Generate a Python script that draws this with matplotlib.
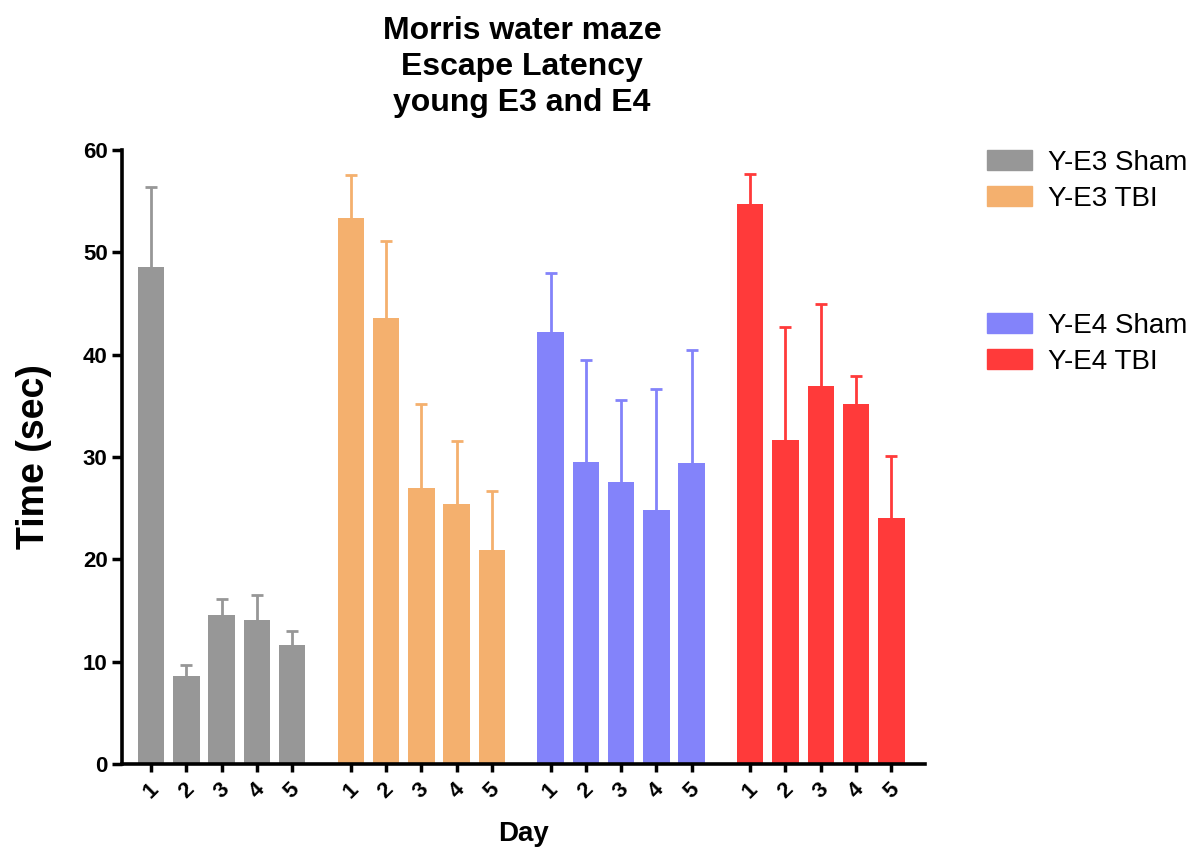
import numpy as np
import matplotlib
matplotlib.use("Agg")
import matplotlib.pyplot as plt
from matplotlib.patches import Patch

plt.rcParams['font.family'] = ['Liberation Sans', 'DejaVu Sans']

# veriler
days = ['1', '2', '3', '4', '5']
groups = ['Y-E3 Sham', 'Y-E3 TBI', 'Y-E4 Sham', 'Y-E4 TBI']
colors = ['#979797', '#F4B06E', '#8383FA', '#FF3A3A']

e3_sham = [48.6, 8.6, 14.6, 14.1, 11.6]
e3_sham_err = [7.8, 1.1, 1.5, 2.4, 1.4]
e3_tbi = [53.4, 43.6, 27.0, 25.4, 20.9]
e3_tbi_err = [4.2, 7.5, 8.2, 6.2, 5.8]
e4_sham = [42.2, 29.5, 27.6, 24.8, 29.4]
e4_sham_err = [5.8, 10.0, 8.0, 11.8, 11.1]
e4_tbi = [54.7, 31.7, 36.9, 35.2, 24.0]
e4_tbi_err = [3.0, 11.0, 8.1, 2.7, 6.1]

means = [e3_sham, e3_tbi, e4_sham, e4_tbi]
errs = [e3_sham_err, e3_tbi_err, e4_sham_err, e4_tbi_err]

fig = plt.figure(figsize=(11.98, 8.5), dpi=100)
ax = fig.add_axes([0.102, 0.1012, 0.670, 0.7223])

group_step = 5.66
all_x = []
for g in range(4):
    x = g * group_step + np.arange(5)
    all_x.extend(x)
    ax.bar(x, means[g], width=0.75, color=colors[g], zorder=2)
    eb = ax.errorbar(x, means[g], yerr=[np.zeros(5), errs[g]], fmt='none',
                     ecolor=colors[g], elinewidth=2, capsize=4.5, capthick=2,
                     zorder=3)
    # sadece üst çizgi kalsın
    eb[1][0].set_visible(False)

ax.set_xticks(all_x)
ax.set_xticklabels(days * 4, rotation=45, fontsize=16, fontweight='bold')
ax.set_xlim(-0.82, 3 * group_step + 4 + 0.95)
ax.set_ylim(0, 60)
ax.set_yticks([0, 10, 20, 30, 40, 50, 60])
ax.tick_params(axis='y', labelsize=16, width=2.5, length=7)
ax.tick_params(axis='x', width=2.5, length=6, pad=5)
for lab in ax.get_yticklabels():
    lab.set_fontweight('bold')

for s in ['top', 'right']:
    ax.spines[s].set_visible(False)
for s in ['left', 'bottom']:
    ax.spines[s].set_linewidth(2.6)

ax.set_ylabel('Time (sec)', fontsize=27, fontweight='bold')
ax.yaxis.set_label_coords(-0.088, 0.5)
ax.set_xlabel('Day', fontsize=20, fontweight='bold')
ax.xaxis.set_label_coords(0.5, -0.093)

fig.text(0.4357, 1 - 67 / 850, 'Morris water maze\nEscape Latency\nyoung E3 and E4',
         fontsize=23, fontweight='bold', linespacing=1.28,
         ha='center', va='center')

# iki ayrı legend
h1 = [Patch(color=colors[0]), Patch(color=colors[1])]
h2 = [Patch(color=colors[2]), Patch(color=colors[3])]
leg_kw = dict(loc='upper left', frameon=False, fontsize=20,
              handlelength=1.6, handleheight=0.72, labelspacing=0.37,
              handletextpad=0.58, borderpad=0, borderaxespad=0)
fig.legend(h1, groups[:2], bbox_to_anchor=(0.824, 0.824), **leg_kw)
fig.legend(h2, groups[2:], bbox_to_anchor=(0.824, 0.632), **leg_kw)

fig.savefig('out.png', dpi=100)
